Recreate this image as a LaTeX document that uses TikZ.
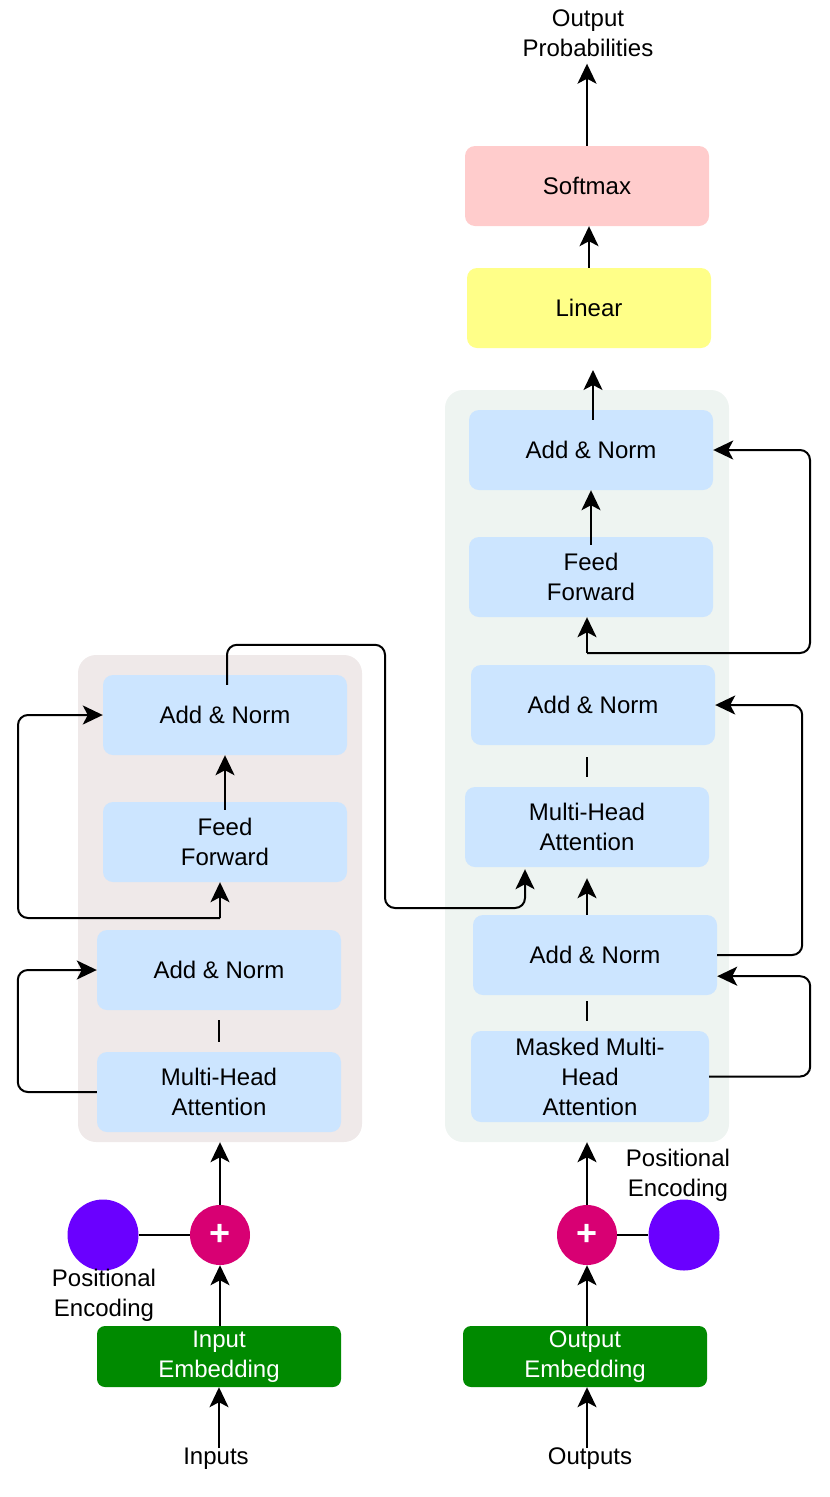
\documentclass[tikz,border=0pt]{standalone}
\usepackage{fontspec}
\setmainfont{Liberation Sans}
\usetikzlibrary{arrows.meta, calc}
\definecolor{blockblue}{HTML}{CCE5FF}
\definecolor{encgray}{HTML}{EFE9E9}
\definecolor{decgray}{HTML}{EEF4F1}
\definecolor{embgreen}{HTML}{008A00}
\definecolor{addpink}{HTML}{D80073}
\definecolor{pepurple}{HTML}{6A00FF}
\definecolor{linyellow}{HTML}{FFFF88}
\definecolor{softred}{HTML}{FFCCCC}

\begin{document}
\begin{tikzpicture}[x=1pt, y=-1pt,
  every node/.style={font=\fontsize{24}{30}\selectfont, align=center, inner sep=0pt},
  block/.style={fill=blockblue, rounded corners=10pt, minimum width=244pt, minimum height=80pt},
  stack/.style={rounded corners=18pt, minimum width=284pt},
  embed/.style={fill=embgreen, text=white, rounded corners=8pt, minimum width=244pt, minimum height=61pt},
  addop/.style={circle, fill=addpink, text=white, minimum size=60pt, font=\fontsize{36}{36}\selectfont\bfseries},
  posenc/.style={circle, fill=pepurple, minimum size=71pt},
  link/.style={line width=2pt},
  arr/.style={link, -{Stealth[length=20pt, width=19pt, inset=5pt]}},
  resid/.style={arr, rounded corners=10pt}
]
  \useasboundingbox (0,0) rectangle (830,1497);

  % encoder and decoder stacks
  \node[stack, fill=encgray, minimum height=487pt] (encstack) at (220,898.5) {};
  \node[stack, fill=decgray, minimum height=752pt] (decstack) at (587,766) {};

  % encoder
  \node[block] (encmha) at (219,1092) {Multi-Head\\Attention};
  \node[block] (encan1) at (219,970) {Add \& Norm};
  \node[block] (encff) at (225,842) {Feed\\Forward};
  \node[block] (encan2) at (225,715) {Add \& Norm};

  % decoder
  \node[block, minimum width=238pt, minimum height=91pt] (decmmha) at (590,1076.5) {Masked Multi-\\Head\\Attention};
  \node[block] (decan1) at (595,955) {Add \& Norm};
  \node[block] (decmha) at (587,827) {Multi-Head\\Attention};
  \node[block] (decan2) at (593,705) {Add \& Norm};
  \node[block] (decff) at (591,577) {Feed\\Forward};
  \node[block] (decan3) at (591,450) {Add \& Norm};

  % output head
  \node[block, fill=linyellow] (linear) at (589,308) {Linear};
  \node[block, fill=softred] (softmax) at (587,186) {Softmax};
  \node (outprob) at (588,33) {Output\\Probabilities};

  % embeddings and positional encoding
  \node[embed] (inemb) at (219,1356.5) {Input\\Embedding};
  \node[embed] (outemb) at (585,1356.5) {Output\\Embedding};
  \node[addop] (encadd) at (220,1235) {+};
  \node[addop] (decadd) at (587,1235) {+};
  \node[posenc] (encpe) at (103,1235) {};
  \node[posenc] (decpe) at (684,1235) {};
  \node (encpetext) at (104,1295) {Positional\\Encoding};
  \node (decpetext) at (678,1175) {Positional\\Encoding};
  \node (inputs) at (216,1459) {Inputs};
  \node (outputs) at (590,1459) {Outputs};

  % input side
  \draw[arr] (inemb.south |- inputs.north) -- (inemb.south);
  \draw[arr] (encadd |- inemb.north) -- (encadd.south);
  \draw[link] (encpe) -- (encadd);
  \draw[arr] (encadd.north) -- (encadd.north |- encstack.south);
  \draw[arr] (decadd |- outputs.north) -- (decadd |- outemb.south);
  \draw[arr] (decadd |- outemb.north) -- (decadd.south);
  \draw[link] (decadd) -- (decpe);
  \draw[arr] (decadd.north) -- (decadd.north |- decstack.south);

  % encoder connectors
  \draw[link, shorten <=10pt, shorten >=10pt] (encan1.south) -- (encmha.north);
  \draw[resid] (encmha.west) -- ++(-79,0) |- (encan1.west);
  \coordinate (encsplit) at (220,918);
  \draw[arr] (encsplit) -- (encsplit |- encff.south);
  \draw[resid] (encsplit) -- ++(-202,0) |- (encan2.west);
  \draw[arr] ($(encff.north)+(0,8)$) -- (encan2.south);
  \draw[resid] ($(encan2.north)+(2,10)$) -- ++(0,-40) -| (385,908) -| ($(decmha.south)+(-62,2)$);

  % decoder connectors
  \draw[link, shorten <=6pt, shorten >=10pt] (decan1.south -| decmha) -- (decmmha.north -| decmha);
  \draw[resid] (decmmha.east) -- ++(101,0) |- ($(decan1.south east)+(0,-19)$);
  \draw[arr, shorten >=11pt] (decan1.north -| decmha) -- (decmha.south);
  \draw[resid] (decan1.east) -- ++(85,0) |- (decan2.east);
  \draw[link, shorten <=12pt, shorten >=10pt] (decan2.south -| decmha) -- (decmha.north);
  \coordinate (decsplit) at (587,653);
  \draw[arr] (decsplit) -- (decsplit |- decff.south);
  \draw[resid] (decsplit) -- ++(223,0) |- (decan3.east);
  \draw[arr] ($(decff.north)+(0,8)$) -- (decan3.south);
  \coordinate (decout) at (593,370);
  \draw[arr] ($(decan3.north)+(2,10)$) -- (decout);
  \draw[arr] (linear.north) -- (linear.north |- softmax.south);
  \draw[arr, shorten >=7pt] (softmax.north) -- (softmax.north |- outprob.south);
\end{tikzpicture}
\end{document}
